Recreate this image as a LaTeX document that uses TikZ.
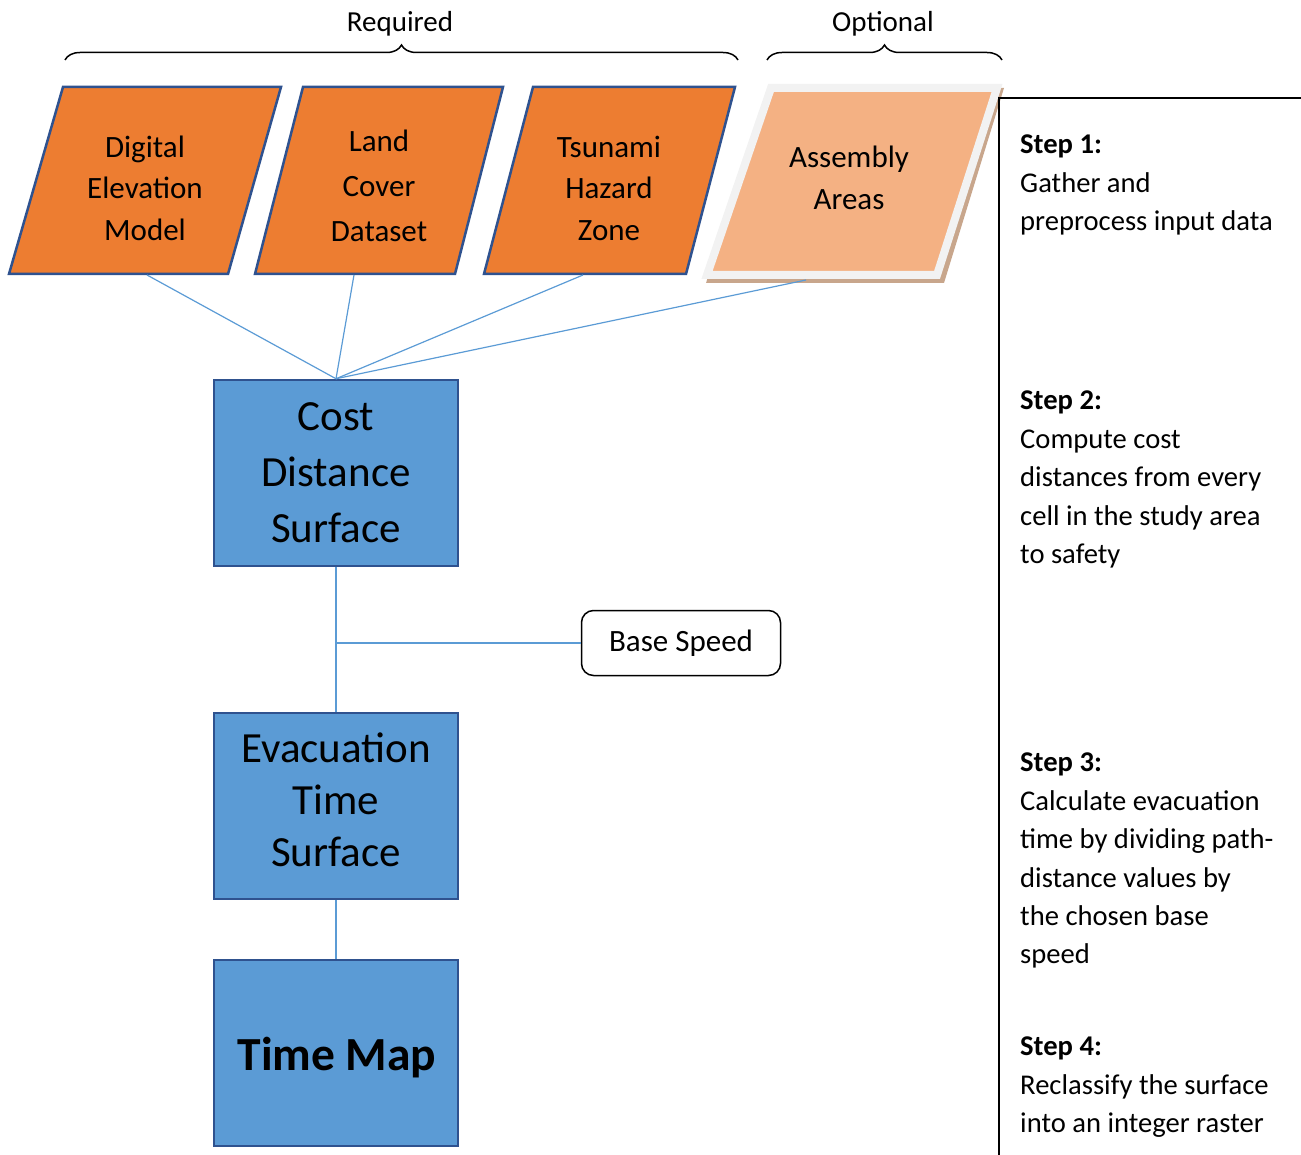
\documentclass[tikz,border=0pt]{standalone}
\usepackage{fontspec}
\setmainfont{Carlito}
\usetikzlibrary{decorations.pathreplacing}

\definecolor{inputorange}{HTML}{ED7D31}
\definecolor{optorange}{HTML}{F4B183}
\definecolor{procblue}{HTML}{5B9BD5}
\definecolor{edgeblue}{HTML}{2F528F}
\definecolor{shadowtan}{HTML}{C8A68C}
\definecolor{rimgray}{HTML}{F2F2F2}

\tikzset{
  inputshape/.style={draw=edgeblue, line width=2.5pt, fill=inputorange},
  inputtext/.style={align=center, font=\fontsize{31}{41.5}\selectfont},
  procbox/.style={draw=edgeblue, line width=2.5pt, fill=procblue, minimum width=244pt, minimum height=186pt},
  proctext/.style={align=center, inner sep=0pt, font=\fontsize{43}{56}\selectfont},
  link/.style={draw=procblue, line width=1.2pt},
  bracket/.style={decorate, decoration={brace, amplitude=15pt}, line width=1.5pt},
  bracetext/.style={font=\fontsize{29}{35}\selectfont},
  steptext/.style={align=left, anchor=north west, inner sep=0pt, font=\fontsize{28.6}{38.4}\selectfont},
}

\begin{document}
\begin{tikzpicture}[x=1pt, y=-1pt]
    \useasboundingbox (0,0) rectangle (1301,1155);

    % braces over the inputs
    \draw [bracket] (65,60) -- (738,60) ;
    \node [bracetext] (required) at (400,24) {Required} ;
    \draw [bracket] (767,60) -- (1002,60) ;
    \node [bracetext] (optional) at (883,24) {Optional} ;

    % input data
    \draw [inputshape] (9,274) -- (63,87) -- (281,87) -- (228,274) -- cycle ;
    \node [inputtext] (dem) at (145,188) {Digital\\Elevation\\Model} ;
    \draw [inputshape] (255,274) -- (303,87) -- (503,87) -- (455,274) -- cycle ;
    \node [inputtext, font=\fontsize{31}{45}\selectfont] (land) at (379,186) {Land\\Cover\\Dataset} ;
    \draw [inputshape] (484,274) -- (533,87) -- (735,87) -- (686,274) -- cycle ;
    \node [inputtext] (hazard) at (609,188) {Tsunami\\Hazard\\Zone} ;

    \fill [shadowtan] (706,283) -- (770,88) -- (1004,88) -- (944,283) -- cycle ;
    \draw [draw=rimgray, line width=8pt, fill=optorange] (707,275) -- (771,88) -- (997,88) -- (937,275) -- cycle ;
    \node [inputtext] (assembly) at (849,178) {Assembly\\Areas} ;

    \coordinate (dem-out) at (147,275) ;
    \coordinate (land-out) at (354,275) ;
    \coordinate (hazard-out) at (583,275) ;
    \coordinate (assembly-out) at (806,280) ;

    % processing chain
    \node [procbox] (cost) at (336,473) {} ;
    \node [proctext] (cost-text) at (336,473) {Cost\\Distance\\Surface} ;
    \node [procbox] (evac) at (336,806) {} ;
    \node [proctext, font=\fontsize{43}{52}\selectfont] (evac-text) at (336,800) {Evacuation\\Time\\Surface} ;
    \node [procbox] (timemap) at (336,1053) {} ;
    \node [proctext, font=\bfseries\fontsize{47.5}{56}\selectfont] (timemap-text) at (337,1058) {Time Map} ;
    \node [draw, line width=1.5pt, rounded corners=12pt, minimum width=199pt, minimum height=65pt, font=\fontsize{31}{37}\selectfont] (speed) at (681,643) {Base Speed} ;

    \draw [link] (dem-out) -- (cost.north) ;
    \draw [link] (land-out) -- (cost.north) ;
    \draw [link] (hazard-out) -- (cost.north) ;
    \draw [link] (assembly-out) -- (cost.north) ;
    \draw [link] (cost.south) -- (evac.north) ;
    \coordinate (speed-join) at (cost.south |- speed.west) ;
    \draw [link] (speed-join) -- (speed.west) ;
    \draw [link] (evac.south) -- (timemap.north) ;

    % step notes
    \coordinate (rule-top) at (999,98) ;
    \coordinate (rule-end) at (1301,98) ;
    \coordinate (rule-foot) at (999,1155) ;
    \draw [line width=1.2pt] (rule-end) -- (rule-top) -- (rule-foot) ;
    \node [steptext] (step1) at (1020,135) {\textbf{Step 1:}\\Gather and\\preprocess input data} ;
    \node [steptext] (step2) at (1020,391) {\textbf{Step 2:}\\Compute cost\\distances from every\\cell in the study area\\to safety} ;
    \node [steptext] (step3) at (1020,753) {\textbf{Step 3:}\\Calculate evacuation\\time by dividing path-\\distance values by\\the chosen base\\speed} ;
    \node [steptext] (step4) at (1020,1037) {\textbf{Step 4:}\\Reclassify the surface\\into an integer raster} ;
\end{tikzpicture}
\end{document}
